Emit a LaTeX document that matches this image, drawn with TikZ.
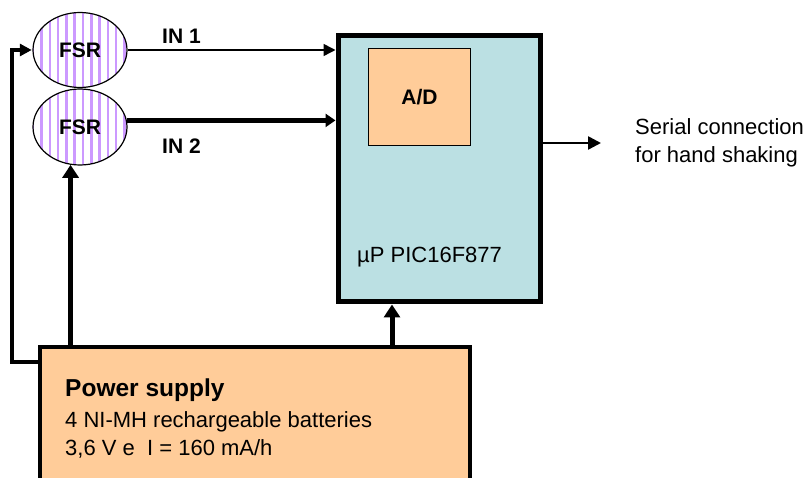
\documentclass[tikz,border=0pt]{standalone}
\usepackage{fontspec}
\setmainfont{Liberation Sans}
\usepackage{tikz}
\usetikzlibrary{positioning, calc, arrows.meta, shapes.geometric, patterns.meta}
\definecolor{picblue}{HTML}{BBE0E3}
\definecolor{peach}{HTML}{FFCC99}
\definecolor{stripe}{HTML}{CC99FF}

\begin{document}
\begin{tikzpicture}[x=1pt, y=-1pt,
    sensor/.style={ellipse, draw, line width=1.2pt, minimum width=94pt, minimum height=75pt,
      pattern={Lines[angle=90, distance=8.3pt, line width=2.5pt]}, pattern color=stripe,
      font=\fontsize{21}{25}\selectfont\bfseries},
    chip/.style={draw, line width=5pt, fill=picblue, minimum width=202pt, minimum height=266pt},
    conv/.style={draw, line width=1.2pt, fill=peach, minimum width=102pt, minimum height=97pt,
      font=\fontsize{21}{25}\selectfont\bfseries},
    supply/.style={draw, line width=4pt, fill=peach, minimum width=430pt, minimum height=200pt},
    tag/.style={font=\fontsize{21}{25}\selectfont\bfseries, inner sep=0pt},
    txt/.style={font=\fontsize{22}{27.4}\selectfont, inner sep=0pt, align=left},
    signal/.style={-{Triangle[width=12pt, length=12pt]}, line width=1.5pt},
    bus/.style={-{Triangle[width=13pt, length=10pt]}, line width=5pt},
    power/.style={-{Triangle[width=16pt, length=13pt]}, line width=5pt},
    serial/.style={-{Triangle[width=13pt, length=13pt]}, line width=2.5pt},
    feed/.style={-{Triangle[width=12pt, length=12pt]}, line width=3.5pt}
  ]
        % Page frame
        \clip (0,0) rectangle (806,478);

        % Draw blocks
        \node[sensor] (fsrA) at (80,50) {FSR};
        \node[sensor, minimum height=76pt] (fsrB) at (80,127) {FSR};
        \node[chip] (chip) at (439,169) {};
        \node[conv] (adc) at (419.5,97) {A/D};
        \node[txt, anchor=base west] (chipname) at (357,262.7) {µP PIC16F877};
        \node[supply, anchor=north west] (pwr) at (38,345) {};
        \node[txt, anchor=north west] (pwrtext) at (65,378.4)
          {{\fontsize{24.5}{27}\selectfont\bfseries Power supply}\\[4pt]
           4 NI-MH rechargeable batteries\\
           3,6 V e \ I = 160 mA/h};

        % Draw sensor outputs
        \draw[signal] (fsrA.east) -- (fsrA.east -| chip.west);
        \draw[bus] (fsrB.8) -- (fsrB.8 -| chip.west);
        \node[tag, anchor=west] (inA) at (162,36) {IN 1};
        \node[tag, anchor=west] (inB) at (162,146) {IN 2};

        % Draw serial link
        \coordinate (serialend) at (601,143);
        \draw[serial] (chip.east |- serialend) -- (serialend);
        \node[txt, anchor=north west] (serial) at (635,118.5) {Serial connection\\for hand shaking};

        % Draw supply lines
        \coordinate (pictap) at ([xshift=-47pt]chip.south);
        \draw[power] (pictap |- pwr.north) -- (pictap);
        \draw[power] (fsrB.-104 |- pwr.north) -- (fsrB.-104);
        \draw[feed] ([yshift=-17pt]pwr.north west) -| ([xshift=-20pt]fsrA.west) -- (fsrA.west);
\end{tikzpicture}
\end{document}
